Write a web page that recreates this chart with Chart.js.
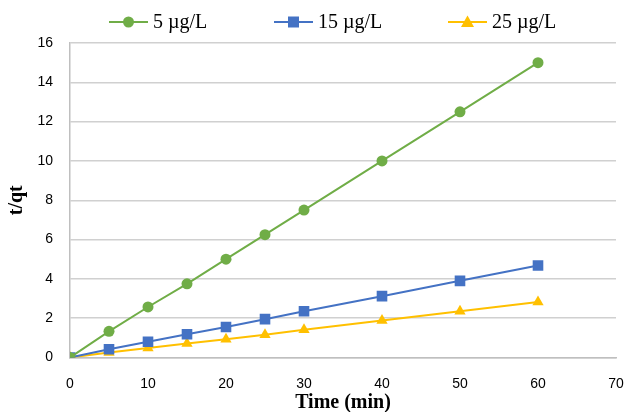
<!DOCTYPE html>
<html>
<head>
<meta charset="utf-8">
<script src="https://cdn.jsdelivr.net/npm/chart.js@4"></script>
<style>
  html, body { margin: 0; padding: 0; background: #fff; }
  #wrap { width: 624px; height: 412px; }
</style>
</head>
<body>
<div id="wrap"><canvas id="chartCanvas" width="624" height="412"></canvas></div>
<script>
const times = [0, 5, 10, 15, 20, 25, 30, 40, 50, 60];
const conc5 = [0, 1.33, 2.57, 3.75, 5.0, 6.25, 7.5, 10.0, 12.5, 15.0];
const conc15 = [0, 0.42, 0.8, 1.18, 1.55, 1.95, 2.35, 3.12, 3.9, 4.68];
const conc25 = [0, 0.25, 0.48, 0.71, 0.93, 1.16, 1.41, 1.88, 2.35, 2.82];
const seriesNames = ["5 µg/L", "15 µg/L", "25 µg/L"];
const colors = ["#70ad47", "#4472c4", "#ffc000"];
const markers = ["circle", "rect", "triangle"];

const serif = "'Liberation Serif', 'Times New Roman', serif";
const sans = "'Liberation Sans', Arial, sans-serif";

function pairs(ys) {
  return times.map((t, i) => ({ x: t, y: ys[i] }));
}

// legend drawn by hand: line + marker, then the label
const legendStarts = [109, 274, 448];
const lineLegend = {
  id: "lineLegend",
  afterDraw(chart) {
    const g = chart.ctx;
    const y = 22;
    g.save();
    chart.data.datasets.forEach((ds, i) => {
      const x0 = legendStarts[i];
      g.strokeStyle = colors[i];
      g.fillStyle = colors[i];
      g.lineWidth = 2;
      g.beginPath(); g.moveTo(x0, y); g.lineTo(x0 + 39, y); g.stroke();
      const cx = x0 + 19.5;
      g.beginPath();
      if (markers[i] === "circle") g.arc(cx, y, 5.5, 0, Math.PI * 2);
      else if (markers[i] === "rect") g.rect(cx - 5.5, y - 5.5, 11, 11);
      else { g.moveTo(cx, y - 6.5); g.lineTo(cx + 6.5, y + 5); g.lineTo(cx - 6.5, y + 5); g.closePath(); }
      g.fill();
      g.fillStyle = "#000";
      g.font = "20px " + serif;
      g.textBaseline = "middle";
      g.fillText(ds.label, x0 + 44, y + 1);
    });
    g.restore();
  }
};

const allSeries = [conc5, conc15, conc25];
const ctx = document.getElementById("chartCanvas").getContext("2d");

new Chart(ctx, {
  type: "scatter",
  data: {
    datasets: allSeries.map((ys, i) => ({
      label: seriesNames[i],
      data: pairs(ys),
      showLine: true,
      borderColor: colors[i],
      backgroundColor: colors[i],
      borderWidth: 2,
      pointStyle: markers[i],
      pointRadius: markers[i] === "rect" ? 7.5 : (markers[i] === "triangle" ? 6.5 : 5.5),
      pointBorderWidth: 0
    }))
  },
  options: {
    responsive: false,
    animation: false,
    layout: { padding: { left: 5, right: 0, top: 43, bottom: 0 } },
    plugins: {
      tooltip: { enabled: false },
      legend: { display: false }
    },
    scales: {
      x: {
        type: "linear",
        min: 0,
        max: 70,
        ticks: { stepSize: 10, color: "#000", padding: 18, font: { family: sans, size: 14 } },
        grid: { display: false, drawTicks: false },
        border: { display: true, color: "#bfbfbf", width: 1.5 },
        title: { display: true, text: "Time (min)", color: "#000", padding: { top: 0, bottom: -1 },
          font: { family: serif, size: 20, weight: "bold", lineHeight: 1.0 } },
        afterFit(scale) {
          scale.height = 54.5;
          scale.paddingLeft = 0;
          scale.paddingRight = 8;
        }
      },
      y: {
        min: 0,
        max: 16,
        ticks: { stepSize: 2, color: "#000", padding: 17, font: { family: sans, size: 14 } },
        grid: { color: "#d0d0d0", lineWidth: 1.5, drawTicks: false },
        border: { display: true, color: "#bfbfbf", width: 1.5 },
        title: { display: true, text: "t/qt", color: "#000", padding: { top: 0, bottom: 0 },
          font: { family: serif, size: 20, weight: "bold", lineHeight: 1.2 } },
        afterFit(scale) {
          scale.width = 65;
        }
      }
    }
  },
  plugins: [lineLegend]
});
</script>
</body>
</html>
